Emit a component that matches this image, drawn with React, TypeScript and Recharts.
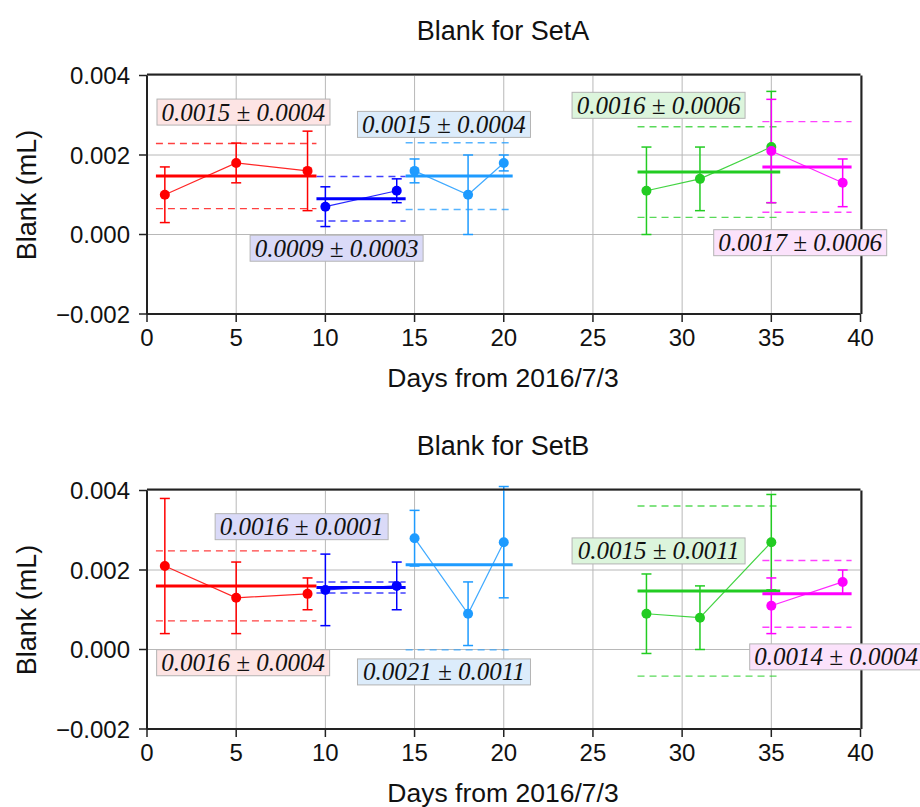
import React from "react";
import {
  ComposedChart,
  Line,
  ErrorBar,
  XAxis,
  YAxis,
  CartesianGrid,
  ReferenceLine,
  ReferenceDot,
} from "recharts";

// Measurement days of each group (shared by both sets)
const redDays = [1, 5, 9];
const blueDays = [10, 14];
const skyDays = [15, 18, 20];
const greenDays = [28, 31, 35];
const magentaDays = [35, 39];

// SetA blank values (mL) and their uncertainties
const setARed = [0.001, 0.0018, 0.0016];
const setARedErr = [0.0007, 0.0005, 0.001];
const setABlue = [0.0007, 0.0011];
const setABlueErr = [0.0005, 0.0003];
const setASky = [0.0016, 0.001, 0.0018];
const setASkyErr = [0.0003, 0.001, 0.0002];
const setAGreen = [0.0011, 0.0014, 0.0022];
const setAGreenErr = [0.0011, 0.0008, 0.0014];
const setAMagenta = [0.0021, 0.0013];
const setAMagentaErr = [0.0013, 0.0006];
// SetA group means and standard deviations (red, blue, sky, green, magenta)
const setAMeans = [0.00147, 0.0009, 0.00147, 0.00157, 0.0017];
const setASds = [0.00041, 0.00028, 0.00042, 0.00057, 0.00057];

// SetB blank values (mL) and their uncertainties
const setBRed = [0.0021, 0.0013, 0.0014];
const setBRedErr = [0.0017, 0.0009, 0.0004];
const setBBlue = [0.0015, 0.0016];
const setBBlueErr = [0.0009, 0.0006];
const setBSky = [0.0028, 0.0009, 0.0027];
const setBSkyErr = [0.0007, 0.0008, 0.0014];
const setBGreen = [0.0009, 0.0008, 0.0027];
const setBGreenErr = [0.001, 0.0008, 0.0012];
const setBMagenta = [0.0011, 0.0017];
const setBMagentaErr = [0.0007, 0.0003];
// SetB group means and standard deviations (red, blue, sky, green, magenta)
const setBMeans = [0.0016, 0.00156, 0.00213, 0.00147, 0.0014];
const setBSds = [0.00044, 0.00007, 0.00107, 0.00107, 0.00042];

// Axis ticks
const dayTicks = [0, 5, 10, 15, 20, 25, 30, 35, 40];
const dayMinorTicks = [
  0, 1, 2, 3, 4, 5, 6, 7, 8, 9, 10, 11, 12, 13, 14, 15, 16, 17, 18, 19, 20,
  21, 22, 23, 24, 25, 26, 27, 28, 29, 30, 31, 32, 33, 34, 35, 36, 37, 38, 39, 40,
];
const blankTicks = [-0.002, 0, 0.002, 0.004];
const blankMinorTicks = [-0.002, -0.001, 0, 0.001, 0.002, 0.003, 0.004];

// Where the mean ± sd boxes sit (day of left edge, mL of centre)
const setALabelAt = [
  [0.56, 0.00308],
  [5.78, -0.000345],
  [11.8, 0.00277],
  [23.83, 0.00325],
  [31.77, -0.000206],
];
const setBLabelAt = [
  [0.54, -0.000333],
  [3.82, 0.00309],
  [11.8, -0.000564],
  [23.83, 0.00248],
  [33.79, -0.000186],
];

const groupColors = ["#ff0000", "#0000ff", "#1e9bff", "#22cc22", "#ff00ff"];
const boxFills = ["#fde4e4", "#dadaf8", "#dcecfb", "#dcf5dc", "#fbe2fb"];
const groupDays = [redDays, blueDays, skyDays, greenDays, magentaDays];

type Group = {
  color: string;
  fill: string;
  points: { x: number; y: number; err: number }[];
  from: number;
  to: number;
  mean: number;
  sd: number;
  labelAt: number[];
};

function buildGroups(
  values: number[][],
  errs: number[][],
  means: number[],
  sds: number[],
  labelAt: number[][]
): Group[] {
  return values.map((vals, g) => {
    const days = groupDays[g];
    return {
      color: groupColors[g],
      fill: boxFills[g],
      points: vals.map((y, i) => ({ x: days[i], y, err: errs[g][i] })),
      from: days[0] - 0.5,
      to: days[days.length - 1] + 0.5,
      mean: means[g],
      sd: sds[g],
      labelAt: labelAt[g],
    };
  });
}

const setAGroups = buildGroups(
  [setARed, setABlue, setASky, setAGreen, setAMagenta],
  [setARedErr, setABlueErr, setASkyErr, setAGreenErr, setAMagentaErr],
  setAMeans,
  setASds,
  setALabelAt
);
const setBGroups = buildGroups(
  [setBRed, setBBlue, setBSky, setBGreen, setBMagenta],
  [setBRedErr, setBBlueErr, setBSkyErr, setBGreenErr, setBMagentaErr],
  setBMeans,
  setBSds,
  setBLabelAt
);

const SANS = "'Liberation Sans', Arial, Helvetica, sans-serif";
const SERIF = "'Liberation Serif', 'Times New Roman', serif";
const FRAME = "#222";

const formatBlank = (v: number) => {
  const s = Math.abs(v).toFixed(3);
  return v < -1e-9 ? "\u2212" + s : s;
};

function StatBox(props: any) {
  const { cx, cy, text, fill } = props;
  if (cx == null || cy == null) return null;
  const w = 173;
  const h = 26;
  return (
    <g>
      <rect x={cx} y={cy - h / 2} width={w} height={h} fill={fill} stroke="#b4b4b4" strokeWidth={1} />
      <text
        x={cx + w / 2}
        y={cy}
        dy="0.34em"
        textAnchor="middle"
        fontFamily={SERIF}
        fontStyle="italic"
        fontSize={25}
        fill="#111"
      >
        {text}
      </text>
    </g>
  );
}

const textStyle = {
  position: "absolute" as const,
  fontFamily: SANS,
  fontSize: 27,
  whiteSpace: "nowrap" as const,
  color: "#111",
  lineHeight: 1,
};

// every axis box is 1px thick; margins below account for the two axes on each side
function Panel({ groups, top, title }: { groups: Group[]; top: number; title: string }) {
  const W = 920;
  const H = 392;
  return (
    <div style={{ position: "absolute", left: 0, top, width: W, height: H }}>
      <div style={{ ...textStyle, left: 503, top: 31, transform: "translate(-50%, -50%)" }}>{title}</div>
      <div style={{ ...textStyle, left: 503, top: 378, fontSize: 26.5, transform: "translate(-50%, -50%)" }}>
        Days from 2016/7/3
      </div>
      <div
        style={{ ...textStyle, left: 27, top: 195, transform: "translate(-50%, -50%) rotate(-90deg)" }}
      >
        Blank (mL)
      </div>
      <div style={{ position: "absolute", left: 0, top: 0 }}>
        <ComposedChart
          width={W}
          height={H}
          margin={{ top: 73.5, left: 145, right: 57.5, bottom: 76 }}
        >
          <CartesianGrid stroke="#b8b8b8" strokeWidth={1} />
          <XAxis
            type="number"
            dataKey="x"
            domain={[0, 40]}
            ticks={dayTicks}
            interval={0}
            allowDataOverflow
            height={1}
            tickSize={8}
            tickMargin={7}
            axisLine={{ stroke: FRAME, strokeWidth: 2 }}
            tickLine={{ stroke: FRAME, strokeWidth: 1.5 }}
            tick={{ fontFamily: SANS, fontSize: 24, fill: "#111" }}
          />
          <XAxis
            xAxisId="minorBottom"
            type="number"
            domain={[0, 40]}
            ticks={dayMinorTicks}
            interval={0}
            allowDataOverflow
            height={1}
            tickSize={4}
            axisLine={false}
            tickLine={{ stroke: FRAME, strokeWidth: 1.2 }}
            tick={false}
          />
          <XAxis
            xAxisId="top"
            orientation="top"
            type="number"
            domain={[0, 40]}
            ticks={dayTicks}
            interval={0}
            allowDataOverflow
            height={1}
            tickSize={8}
            axisLine={{ stroke: FRAME, strokeWidth: 2 }}
            tickLine={{ stroke: FRAME, strokeWidth: 1.5 }}
            tick={false}
          />
          <XAxis
            xAxisId="minorTop"
            orientation="top"
            type="number"
            domain={[0, 40]}
            ticks={dayMinorTicks}
            interval={0}
            allowDataOverflow
            height={1}
            tickSize={4}
            axisLine={false}
            tickLine={{ stroke: FRAME, strokeWidth: 1.2 }}
            tick={false}
          />
          <YAxis
            type="number"
            domain={[-0.002, 0.004]}
            ticks={blankTicks}
            interval={0}
            allowDataOverflow
            width={1}
            tickSize={8}
            tickMargin={9}
            tickFormatter={formatBlank}
            axisLine={{ stroke: FRAME, strokeWidth: 2 }}
            tickLine={{ stroke: FRAME, strokeWidth: 1.5 }}
            tick={{ fontFamily: SANS, fontSize: 24, fill: "#111" }}
          />
          <YAxis
            yAxisId="minorLeft"
            type="number"
            domain={[-0.002, 0.004]}
            ticks={blankMinorTicks}
            interval={0}
            allowDataOverflow
            width={1}
            tickSize={4}
            axisLine={false}
            tickLine={{ stroke: FRAME, strokeWidth: 1.2 }}
            tick={false}
          />
          <YAxis
            yAxisId="right"
            orientation="right"
            type="number"
            domain={[-0.002, 0.004]}
            ticks={blankTicks}
            interval={0}
            allowDataOverflow
            width={1}
            tickSize={8}
            axisLine={{ stroke: FRAME, strokeWidth: 2 }}
            tickLine={{ stroke: FRAME, strokeWidth: 1.5 }}
            tick={false}
          />
          <YAxis
            yAxisId="minorRight"
            orientation="right"
            type="number"
            domain={[-0.002, 0.004]}
            ticks={blankMinorTicks}
            interval={0}
            allowDataOverflow
            width={1}
            tickSize={4}
            axisLine={false}
            tickLine={{ stroke: FRAME, strokeWidth: 1.2 }}
            tick={false}
          />

          {/* ±2σ bands as dashed lines */}
          {groups.flatMap((g, i) =>
            [g.mean + 2 * g.sd, g.mean - 2 * g.sd].map((v, k) => (
              <ReferenceLine
                key={`band-${i}-${k}`}
                segment={[
                  { x: g.from, y: v },
                  { x: g.to, y: v },
                ]}
                stroke={g.color}
                strokeOpacity={0.75}
                strokeWidth={1.4}
                strokeDasharray="7 5"
                ifOverflow="hidden"
              />
            ))
          )}

          {groups.map((g, i) => (
            <Line
              key={`series-${i}`}
              data={g.points}
              dataKey="y"
              type="linear"
              stroke={g.color}
              strokeOpacity={0.85}
              strokeWidth={1.2}
              dot={{ r: 5, fill: g.color, stroke: g.color, strokeWidth: 0, fillOpacity: 1 }}
              activeDot={false}
              isAnimationActive={false}
            >
              <ErrorBar
                dataKey="err"
                direction="y"
                width={5}
                stroke={g.color}
                strokeWidth={1.5}
                isAnimationActive={false}
              />
            </Line>
          ))}

          {/* group means */}
          {groups.map((g, i) => (
            <ReferenceLine
              key={`mean-${i}`}
              segment={[
                { x: g.from, y: g.mean },
                { x: g.to, y: g.mean },
              ]}
              stroke={g.color}
              strokeWidth={3}
              ifOverflow="hidden"
            />
          ))}

          {groups.map((g, i) => (
            <ReferenceDot
              key={`box-${i}`}
              x={g.labelAt[0]}
              y={g.labelAt[1]}
              r={0}
              ifOverflow="visible"
              shape={(p: any) => (
                <StatBox
                  cx={p.cx}
                  cy={p.cy}
                  fill={g.fill}
                  text={`${g.mean.toFixed(4)} \u00b1 ${g.sd.toFixed(4)}`}
                />
              )}
            />
          ))}
        </ComposedChart>
      </div>
    </div>
  );
}

export default function App() {
  return (
    <div style={{ position: "absolute", left: 0, top: 0, width: 920, height: 807, background: "#fff" }}>
      <Panel groups={setAGroups} top={0} title="Blank for SetA" />
      <Panel groups={setBGroups} top={415} title="Blank for SetB" />
    </div>
  );
}
